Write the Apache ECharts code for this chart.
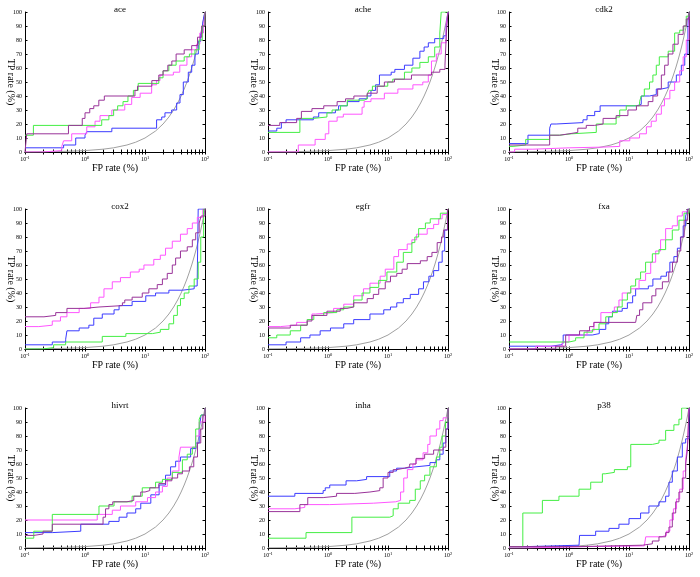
<!DOCTYPE html>
<html>
<head>
<meta charset="utf-8">
<script src="https://cdn.jsdelivr.net/npm/echarts@6.0.0/dist/echarts.min.js"></script>
<style>
  html, body { margin: 0; padding: 0; background: #fff; }
  #chart { width: 700px; height: 577px; }
</style>
</head>
<body>
<div id="chart"></div>
<script>
// panel titles, in reading order
const panelNames = ['ace', 'ache', 'cdk2', 'cox2', 'egfr', 'fxa', 'hivrt', 'inha', 'p38']

// random classifier reference (TP rate = FP rate)
const randomLine = [[0.1, 0.1], [0.2, 0.2], [0.5, 0.5], [1, 1], [2, 2], [3, 3], [5, 5], [7, 7], [10, 10],
  [15, 15], [20, 20], [25, 25], [30, 30], [35, 35], [40, 40], [45, 45], [50, 50], [55, 55], [60, 60],
  [65, 65], [70, 70], [75, 75], [80, 80], [85, 85], [90, 90], [95, 95], [100, 100]]

// [FP rate %, TP rate %] corners of each ROC step curve
const ace_green = [[0.1, 12], [0.138, 19], [1.9, 23], [2.5, 26], [3.0, 30], [3.5, 33], [4.3, 36], [5.2, 40], [6.4, 44], [7.7, 49], [17, 53], [20, 58], [25, 62], [33, 65], [45, 68], [55, 70], [68, 73], [80, 80], [90, 90], [100, 100]]
const ace_purple = [[0.1, 0], [0.107, 13], [0.53, 19], [0.9, 24], [1.0, 28], [1.2, 31], [1.4, 33], [1.7, 37], [2.1, 40], [6.8, 44], [7.5, 47], [13, 51], [17, 55], [20, 58], [24, 62], [28, 65], [33, 70], [45, 73], [60, 76], [75, 82], [88, 90], [100, 100]]
const ace_pink = [[0.1, 0], [0.2, 1], [0.41, 4], [0.44, 8], [0.6, 13], [1.07, 18], [1.47, 22], [1.78, 26], [2.8, 30], [4.6, 34], [6.0, 39], [8.3, 42], [12.9, 48], [15.6, 51], [17.8, 55], [29.7, 57], [38, 62], [50, 68], [60, 73], [72, 77], [82, 85], [94, 88], [100, 100]]
const ace_blue = [[0.1, 3], [0.44, 5], [0.7, 10], [1.0, 12], [1.07, 14.5], [2.8, 17], [15.6, 23], [19, 25], [21.5, 28], [27.8, 30], [33.7, 35], [38.3, 41], [43.5, 50], [52.7, 57], [60, 62], [68, 70], [77.4, 79], [84.7, 85], [91.5, 92], [96, 97], [100, 100]]

const ache_green = [[0.1, 14], [0.34, 24], [0.57, 25], [0.96, 28], [1.17, 30], [1.62, 33], [2.1, 37], [4.0, 38], [4.5, 41], [4.8, 44], [5.5, 47], [9.9, 50], [12, 52], [18.8, 57], [25, 60], [34, 64], [47, 68], [60, 75], [73, 85], [77, 100], [100, 100]]
const ache_purple = [[0.1, 19], [0.157, 21], [0.3, 24], [0.36, 29], [0.54, 31], [0.85, 33], [1.42, 36], [1.96, 38], [2.7, 40], [4.5, 42], [6.6, 47], [8.7, 50], [12.8, 52], [24.6, 55], [53, 57], [73, 59], [89, 62], [94, 85], [100, 100]]
const ache_blue = [[0.1, 15], [0.14, 17], [0.167, 21], [0.2, 23], [0.57, 25], [0.7, 28], [1.33, 30], [1.5, 33], [2.1, 36], [3.3, 38], [4.5, 40], [5.2, 44], [6.2, 48], [7.2, 55], [11.3, 57], [13, 59], [18.8, 62], [26, 67], [34, 72], [40, 75], [47, 78], [60, 81], [85, 83], [93, 90], [100, 100]]
const ache_pink = [[0.1, 0], [0.32, 5], [0.61, 9], [0.9, 13], [1.03, 22], [1.42, 25], [1.8, 27], [3.7, 32], [4.0, 36], [5.2, 38], [8.7, 42], [14.6, 45], [26, 48], [38, 50], [47, 55], [53, 65], [64, 70], [77, 78], [93, 90], [100, 100]]

const cdk2_blue = [[0.1, 6], [0.207, 12], [0.476, 17], [0.5, 20], [0.61, 21], [1.71, 23], [2.0, 26], [2.68, 29], [3.3, 33], [13.3, 34], [16, 40], [22, 41], [28.5, 45], [34.6, 46], [45, 50], [61.5, 55], [74.5, 62], [85, 70], [96, 90], [100, 100]]
const cdk2_green = [[0.1, 4], [0.117, 5], [0.19, 9], [0.476, 12], [0.7, 13], [1.1, 14], [2.85, 20], [6.1, 25], [7, 30], [9, 33], [15, 36], [16, 40], [18, 45], [22, 50], [25, 55], [28.5, 62], [32, 68], [45, 72], [57.6, 85], [70, 87], [82, 90], [90, 97], [100, 100]]
const cdk2_purple = [[0.1, 5], [0.476, 12], [0.7, 13], [1.0, 14], [1.4, 17], [1.94, 19], [2.68, 20], [3.7, 24], [6.1, 26], [9.6, 30], [13.3, 33], [20.9, 36], [25, 40], [30, 45], [34.6, 55], [39.3, 62], [45, 70], [54, 77], [66, 84], [80, 90], [90, 95], [100, 100]]
const cdk2_pink = [[0.1, 0], [0.124, 2], [0.25, 3], [1.03, 3.5], [3.7, 4], [7, 8], [10.3, 10], [15, 13], [19.5, 18], [23.5, 22], [28.5, 27], [34.6, 33], [39, 38], [48, 44], [57.6, 50], [70, 58], [80, 68], [90, 80], [100, 100]]

const cox2_purple = [[0.1, 23], [0.207, 24], [0.325, 26], [0.5, 29], [0.96, 30], [1.71, 31], [4.2, 33], [4.6, 35], [6.1, 37], [9, 40], [11.6, 43], [16, 46], [19.5, 50], [23.5, 54], [28.5, 60], [32.4, 65], [39, 70], [50.6, 73], [61.5, 78], [70, 83], [80, 90], [86, 95], [100, 100]]
const cox2_pink = [[0.1, 16], [0.17, 17], [0.285, 20], [0.39, 23], [0.5, 26], [0.8, 29], [1.24, 33], [1.71, 37], [2.07, 43], [2.85, 48], [3.9, 51], [5.7, 55], [8, 57], [9.6, 60], [14, 64], [18, 67], [22, 72], [28.5, 77], [39, 82], [50.6, 86], [61.5, 90], [74.5, 94], [92, 100], [100, 100]]
const cox2_blue = [[0.1, 3], [0.285, 5], [0.476, 7], [0.5, 13], [0.8, 15], [1.16, 17], [1.4, 22], [1.94, 25], [3.05, 28], [3.7, 31], [6.1, 34], [10.3, 38], [15, 40], [25, 42], [42, 43], [66, 45], [74, 46], [77, 100], [100, 100]]
const cox2_green = [[0.1, 0], [0.195, 1], [0.3, 3], [0.476, 5], [1.94, 9], [4.8, 11], [13.3, 12], [18, 14], [25, 18], [30, 24], [34.6, 31], [39, 36], [45, 40], [54, 45], [66, 50], [77, 62], [85, 80], [95, 100], [100, 100]]

const egfr_pink = [[0.1, 16], [0.16, 17], [0.3, 19], [0.45, 21], [0.54, 25], [0.62, 26], [1.24, 29], [1.83, 32], [2.68, 38], [3.9, 43], [5, 47], [7.4, 52], [9, 57], [12.5, 66], [15, 71], [20.9, 75], [25, 78], [30, 82], [45, 86], [57.6, 89], [70, 93], [80, 96], [98, 100], [100, 100]]
const egfr_green = [[0.1, 8], [0.14, 10], [0.235, 13], [0.35, 17], [0.45, 21], [0.58, 24], [0.85, 26], [1.4, 28], [1.83, 30], [2.68, 35], [3.7, 40], [5, 44], [7, 49], [9.6, 55], [14, 62], [18, 69], [25, 76], [28, 80], [32.4, 86], [42, 90], [50.6, 93], [74.5, 97], [98, 100], [100, 100]]
const egfr_purple = [[0.1, 15], [0.235, 17], [0.45, 20], [0.54, 24], [0.96, 27], [1.6, 29], [2.07, 30], [2.68, 33], [4.5, 36], [5.7, 39], [7, 43], [9, 48], [11, 52], [14, 54], [17.2, 57], [20.9, 61], [34.6, 63], [45, 66], [54, 69], [66, 76], [78, 80], [85, 85], [98, 100], [100, 100]]
const egfr_blue = [[0.1, 3], [0.2, 5], [0.35, 8], [0.5, 10], [0.74, 13], [1.1, 15], [1.83, 18], [2.68, 21], [5, 25], [8.5, 28], [11, 30], [14, 33], [18, 36], [23.5, 39], [32.4, 43], [39, 48], [48, 52], [57.6, 56], [70, 62], [80, 70], [88, 85], [98, 100], [100, 100]]

const fxa_green = [[0.1, 5], [1.0, 6], [1.29, 8], [1.78, 12], [2.45, 14], [3.16, 18], [4.1, 23], [5.3, 26], [6.4, 30], [7.7, 35], [9.4, 40], [10.7, 45], [12.9, 50], [15.6, 55], [18.9, 62], [24.5, 68], [31.6, 71], [40.8, 78], [52.7, 85], [68, 92], [82.5, 97], [100, 100]]
const fxa_pink = [[0.1, 0], [0.28, 2], [0.77, 5], [1.0, 10], [2.0, 13], [2.6, 19], [3.4, 26], [5.7, 30], [6.8, 35], [7.7, 40], [10.7, 43], [14.7, 49], [18.9, 54], [23, 62], [27.8, 70], [33.6, 78], [40.8, 86], [52.7, 88], [64, 95], [77.4, 98], [100, 100]]
const fxa_blue = [[0.1, 2], [0.5, 3], [0.73, 4], [0.8, 10], [2.45, 11], [3.2, 14], [4.1, 18], [4.6, 23], [5.3, 27], [7.7, 29], [9.4, 33], [11.5, 38], [12.9, 43], [21, 45], [25, 50], [34, 52], [42, 55], [48, 62], [56, 66], [64, 72], [72, 80], [80, 88], [88, 95], [95, 100], [100, 100]]
const fxa_purple = [[0.1, 0], [0.6, 2], [0.88, 10], [1.5, 13], [2.2, 16], [2.6, 19], [12.9, 19], [13.5, 24], [15, 28], [17, 33], [24, 38], [28, 43], [36, 48], [46, 55], [53, 62], [64, 70], [73, 80], [83, 92], [95, 100], [100, 100]]

const hivrt_green = [[0.1, 7], [0.14, 12], [0.285, 24], [1.71, 30], [3.05, 33], [6.1, 37], [9, 43], [15, 47], [19.5, 49], [28.5, 54], [42, 63], [50.6, 67], [61.5, 72], [70, 85], [80, 92], [86, 95], [100, 100]]
const hivrt_pink = [[0.1, 20], [1.6, 24], [2.85, 27], [3.9, 30], [7, 33], [11, 36], [15, 40], [19.5, 44], [23.5, 50], [28.5, 55], [36.8, 65], [39, 72], [61.5, 72], [70, 80], [80, 90], [100, 100]]
const hivrt_blue = [[0.1, 11], [0.285, 12], [0.85, 17], [2.5, 19], [3.7, 22], [5, 25], [7, 28], [8.5, 32], [12.5, 38], [17.2, 45], [22, 52], [26.7, 58], [32.4, 62], [39, 65], [57.6, 71], [70, 75], [80, 85], [86, 95], [100, 100]]
const hivrt_purple = [[0.1, 9], [0.14, 10], [0.2, 12], [0.285, 17], [2.0, 22], [2.2, 28], [2.5, 31], [2.9, 33], [5, 34], [6.5, 37], [8.5, 40], [10, 41], [12, 43], [17, 46], [22, 48], [28, 50], [35, 53], [42, 55], [55, 58], [65, 65], [75, 75], [85, 85], [92, 95], [100, 100]]

const inha_blue = [[0.1, 37], [0.28, 39], [0.83, 41], [0.9, 43], [1.07, 45], [2, 48], [3, 49], [4.4, 51], [10.7, 55], [13.9, 57], [18.9, 58], [29.3, 59], [50, 61], [64, 63], [73, 67], [83, 75], [92, 85], [100, 100]]
const inha_purple = [[0.1, 26], [0.34, 31], [0.46, 36], [0.83, 37], [1.39, 39], [2.8, 40], [5, 41], [7.3, 43], [8.3, 50], [10, 54], [12.2, 56], [14, 57], [18.9, 58], [23, 60], [29.3, 64], [40.8, 67], [57.6, 70], [83, 72], [92, 85], [100, 100]]
const inha_pink = [[0.1, 28], [0.28, 29], [0.41, 31], [1.07, 32], [5.7, 33], [13.4, 34], [16.2, 40], [18.3, 50], [21, 56], [26, 60], [29.3, 63], [38.4, 68], [46, 74], [50, 80], [64, 85], [73, 91], [83, 93], [100, 100]]
const inha_green = [[0.1, 7], [0.43, 11], [2.5, 22], [10.7, 23], [12.2, 28], [14.8, 32], [23, 34], [28.5, 42], [34.5, 48], [40.8, 52], [50, 58], [64, 65], [73, 72], [80, 80], [91, 90], [100, 100]]

const p38_green = [[0.1, 1], [0.17, 25], [0.36, 34], [0.68, 37], [1.47, 42], [2.3, 47], [3.6, 53], [4, 54], [5.7, 56], [9.4, 58], [10.7, 74], [24.5, 75], [31.6, 77], [40.8, 84], [56, 88], [68, 92], [75.4, 100], [100, 100]]
const p38_blue = [[0.1, 1], [0.2, 2], [1.47, 3], [1.5, 9], [2.78, 12], [4.64, 14], [6.8, 17], [10, 21], [15.6, 25], [21.5, 30], [31.6, 33], [40.8, 37], [46.4, 47], [52.7, 55], [64, 65], [77.4, 75], [88, 78], [100, 100]]
const p38_purple = [[0.1, 1], [1.47, 2], [16.7, 3], [24.5, 5], [31.6, 8], [40.8, 11], [46.4, 15], [52.7, 25], [60, 33], [68, 40], [77.4, 50], [88, 60], [94, 70], [100, 100]]
const p38_pink = [[0.1, 0], [0.19, 1], [2, 1.5], [18, 2], [19, 8], [35, 9], [42, 12], [48, 20], [55, 28], [62, 35], [70, 42], [80, 55], [88, 63], [95, 75], [100, 100]]

// axis ticks
const xLabelValues = [0.1, 1, 10, 100]
const xTickValues = [0.1, 0.2, 0.3, 0.4, 0.5, 0.6, 0.7, 0.8, 0.9, 1, 2, 3, 4, 5, 6, 7, 8, 9, 10,
  20, 30, 40, 50, 60, 70, 80, 90, 100]

const panelCurves = [
  [ace_blue, ace_pink, ace_green, ace_purple],
  [ache_blue, ache_pink, ache_green, ache_purple],
  [cdk2_blue, cdk2_pink, cdk2_green, cdk2_purple],
  [cox2_blue, cox2_pink, cox2_green, cox2_purple],
  [egfr_blue, egfr_pink, egfr_green, egfr_purple],
  [fxa_blue, fxa_pink, fxa_green, fxa_purple],
  [hivrt_blue, hivrt_pink, hivrt_green, hivrt_purple],
  [inha_blue, inha_pink, inha_green, inha_purple],
  [p38_blue, p38_pink, p38_green, p38_purple]
]
const curveColors = ['#3b3bff', '#ff55ff', '#44ee44', '#993399']

const FONT = 'Liberation Serif'
const gridLefts = [25, 268, 509]
const gridTops = [12, 209, 408]
const gridW = 180
const gridH = 140

const grids = []
const xAxes = []
const yAxes = []
const titles = []
const series = []

const axisLine = { show: true, lineStyle: { color: '#000', width: 1 } }
const tickStyle = { color: '#000', width: 1 }

panelNames.forEach(function (name, i) {
  const r = Math.floor(i / 3)
  const c = i % 3
  grids.push({ left: gridLefts[c], top: gridTops[r], width: gridW, height: gridH, show: false })
  titles.push({
    text: name,
    left: gridLefts[c] + gridW / 2,
    top: gridTops[r] - 12,
    textAlign: 'center',
    textStyle: { fontFamily: FONT, fontSize: 9, fontWeight: 'normal', color: '#000' }
  })
  xAxes.push({
    gridIndex: i,
    type: 'log',
    logBase: 10,
    min: 0.1,
    max: 100,
    position: 'bottom',
    name: 'FP rate (%)',
    nameLocation: 'middle',
    nameGap: 10,
    nameTextStyle: { fontFamily: FONT, fontSize: 10, color: '#000' },
    axisLine: axisLine,
    axisTick: { show: true, inside: true, length: 2.5, customValues: xTickValues, lineStyle: tickStyle },
    minorTick: { show: false },
    splitLine: { show: false },
    axisLabel: {
      customValues: xLabelValues,
      margin: 3,
      color: '#000',
      fontFamily: FONT,
      formatter: function (v) {
        return '{b|10}{s|' + Math.round(Math.log10(v)) + '}'
      },
      rich: {
        b: { fontFamily: FONT, fontSize: 6, color: '#000' },
        s: { fontFamily: FONT, fontSize: 4.5, color: '#000', padding: [0, 0, 4, 0] }
      }
    }
  })
  xAxes.push({
    gridIndex: i,
    type: 'log',
    logBase: 10,
    min: 0.1,
    max: 100,
    position: 'top',
    axisLine: axisLine,
    axisTick: { show: true, inside: true, length: 2.5, customValues: xTickValues, lineStyle: tickStyle },
    splitLine: { show: false },
    axisLabel: { show: false }
  })
  yAxes.push({
    gridIndex: i,
    type: 'value',
    min: 0,
    max: 100,
    interval: 10,
    position: 'left',
    name: 'TP rate (%)',
    nameLocation: 'middle',
    nameRotate: -90,
    nameGap: 9,
    nameMoveOverlap: false,
    nameTextStyle: { fontFamily: FONT, fontSize: 10, color: '#000' },
    axisLine: axisLine,
    axisTick: { show: true, inside: true, length: 2.5, lineStyle: tickStyle },
    splitLine: { show: false },
    axisLabel: { margin: 3, fontFamily: FONT, fontSize: 6, color: '#000' }
  })
  yAxes.push({
    gridIndex: i,
    type: 'value',
    min: 0,
    max: 100,
    interval: 10,
    position: 'right',
    axisLine: axisLine,
    axisTick: { show: true, inside: true, length: 2.5, lineStyle: tickStyle },
    splitLine: { show: false },
    axisLabel: { show: false }
  })

  series.push({
    type: 'line',
    xAxisIndex: i * 2,
    yAxisIndex: i * 2,
    data: randomLine,
    showSymbol: false,
    silent: true,
    lineStyle: { color: '#a0a0a0', width: 1 }
  })
  panelCurves[i].forEach(function (curve, k) {
    series.push({
      type: 'line',
      xAxisIndex: i * 2,
      yAxisIndex: i * 2,
      data: curve,
      step: 'end',
      showSymbol: false,
      silent: true,
      lineStyle: { color: curveColors[k], width: 1 }
    })
  })
})

const chart = echarts.init(document.getElementById('chart'))
chart.setOption({
  animation: false,
  backgroundColor: '#fff',
  title: titles,
  grid: grids,
  xAxis: xAxes,
  yAxis: yAxes,
  series: series
})
</script>
</body>
</html>
